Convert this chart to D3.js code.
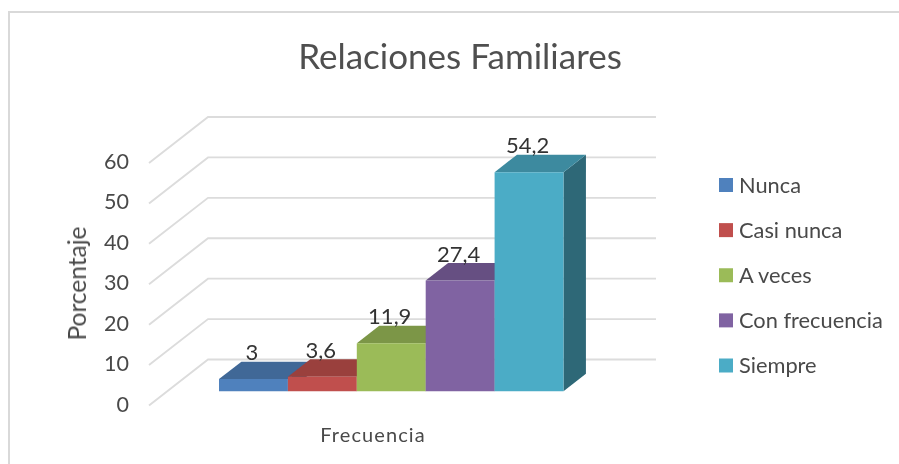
<!DOCTYPE html>
<html><head><meta charset="utf-8">
<script src="https://cdn.jsdelivr.net/npm/d3@7"></script>
<style>html,body{margin:0;background:#fff}svg{display:block}text{font-family:Lato,Carlito,"Open Sans",sans-serif}</style>
</head><body><svg id="c" width="899" height="464"></svg>
<script>
const categories=["Nunca","Casi nunca","A veces","Con frecuencia","Siempre"];
const values=[3,3.6,11.9,27.4,54.2];
const valueLabels=["3","3,6","11,9","27,4","54,2"];
const colors=["#4f81bd","#c0504d","#9bbb59","#8064a2","#4bacc6"];
const topColors=["#3f6797","#9a403e","#7c9647","#665082","#3c8a9f"];
const sideColors=["#2f4d71","#73302e","#5d7035","#4d3c61","#2d6777"];
const ticks=[0,10,20,30,40,50,60];
const svg=d3.select("#c");
const defs=svg.append("defs");
defs.append("filter").attr("id","soft").append("feGaussianBlur").attr("stdDeviation",0.45);
const y=d3.scaleLinear().domain([0,60]).range([405.5,163]);
const x=d3.scaleBand().domain(categories).range([219,563.5]).padding(0);
const depthX=d3.scaleLinear().domain([0,1]).range([0,59]);
const depthY=d3.scaleLinear().domain([0,1]).range([0,-46]);
const barFront=0.31,barBack=0.69,plotRight=656,frontX=149;
const line=d3.line();
const g=svg.append("g").attr("filter","url(#soft)");
g.append("path").attr("d",line([[9,464],[9,12],[899,12]])).attr("fill","none").attr("stroke","#d9d9d9").attr("stroke-width",2);
ticks.forEach(t=>{
  g.append("path").attr("d",line([[frontX,y(t)],[frontX+depthX(1),y(t)+depthY(1)],[plotRight,y(t)+depthY(1)]]))
   .attr("fill","none").attr("stroke","#dcdcdc").attr("stroke-width",1.9);
});
const P=(px,v,t)=>[px+depthX(t),y(v)+depthY(t)];
categories.forEach((c,i)=>{
  const x0=x(c)-depthX(barFront),x1=x0+x.bandwidth(),v=values[i];
  const bar=g.append("g");
  bar.append("path").attr("d",line([P(x1,0,barFront),P(x1,0,barBack),P(x1,v,barBack),P(x1,v,barFront)])+"Z").attr("fill",sideColors[i]);
  bar.append("path").attr("d",line([P(x0,v,barFront),P(x1,v,barFront),P(x1,v,barBack),P(x0,v,barBack)])+"Z").attr("fill",topColors[i]);
  bar.append("path").attr("d",line([P(x0,0,barFront),P(x1,0,barFront),P(x1,v,barFront),P(x0,v,barFront)])+"Z").attr("fill",colors[i]);
});
const t=svg.append("g").attr("filter","url(#soft)");
categories.forEach((c,i)=>{
  const xm=x(c)+x.bandwidth()/2-1.5;
  t.append("text").attr("x",xm).attr("y",y(values[i])+depthY(barBack)-1.5)
   .attr("text-anchor","middle").attr("font-size",22).attr("fill","#333").text(valueLabels[i]);
});
ticks.forEach(v=>{
  t.append("text").attr("x",129).attr("y",y(v)+6).attr("text-anchor","end").attr("font-size",21.5).attr("fill","#4a4a4a").text(v);
});
t.append("text").attr("x",460).attr("y",69).attr("text-anchor","middle").attr("font-size",35).attr("fill","#505050").text("Relaciones Familiares");
t.append("text").attr("transform","translate(86,283.5) rotate(-90)").attr("text-anchor","middle").attr("font-size",24.5).attr("fill","#4a4a4a").text("Porcentaje");
t.append("text").attr("x",373).attr("y",442).attr("text-anchor","middle").attr("font-size",20).attr("letter-spacing",1.1).attr("fill","#4a4a4a").text("Frecuencia");
const ly=d3.scalePoint().domain(categories).range([185,365.5]);
categories.forEach((c,i)=>{
  t.append("rect").attr("x",719).attr("y",ly(c)-7).attr("width",14).attr("height",14).attr("fill",colors[i]);
  t.append("text").attr("x",739).attr("y",ly(c)+7.5).attr("font-size",21.8).attr("fill","#4a4a4a").text(c);
});
</script></body></html>
